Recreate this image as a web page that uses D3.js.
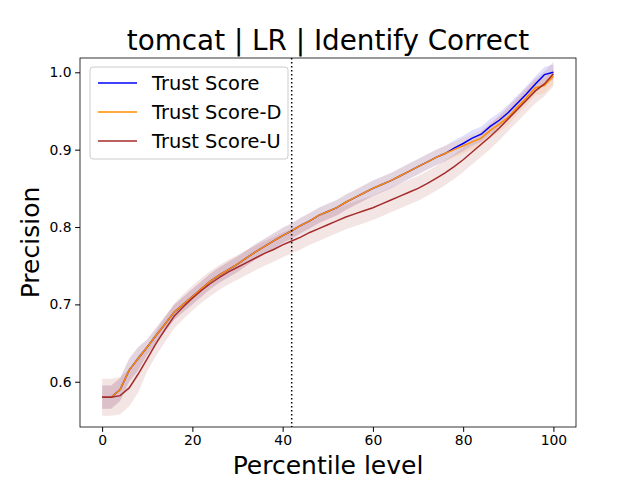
<!DOCTYPE html>
<html><head><meta charset="utf-8">
<script src="https://cdn.jsdelivr.net/npm/d3@7"></script>
<style>body{margin:0;background:#fff}text{font-family:"DejaVu Sans",sans-serif}</style>
</head><body><svg id="c" width="640" height="480"></svg>
<script>
const percentiles = d3.range(0, 101, 2);
const trustScore = [0.58,0.58,0.59,0.615,0.63,0.645,0.66,0.675,0.69,0.70,0.71,0.72,0.73,0.738,0.745,0.752,0.76,0.768,0.775,0.782,0.789,0.795,0.802,0.808,0.815,0.82,0.825,0.832,0.838,0.844,0.85,0.855,0.86,0.866,0.872,0.878,0.884,0.89,0.895,0.902,0.908,0.915,0.92,0.93,0.938,0.948,0.96,0.972,0.985,0.997,1.0];
const trustScoreD = [0.58,0.58,0.59,0.615,0.63,0.645,0.66,0.675,0.69,0.70,0.71,0.72,0.73,0.738,0.745,0.752,0.76,0.768,0.775,0.782,0.789,0.795,0.802,0.808,0.815,0.82,0.825,0.832,0.838,0.844,0.85,0.855,0.86,0.866,0.872,0.878,0.884,0.89,0.895,0.9,0.905,0.91,0.915,0.925,0.933,0.942,0.955,0.967,0.98,0.983,0.995];
const trustScoreU = [0.58,0.58,0.582,0.592,0.61,0.63,0.65,0.668,0.685,0.697,0.708,0.718,0.727,0.735,0.742,0.748,0.754,0.76,0.766,0.771,0.777,0.782,0.787,0.793,0.798,0.803,0.808,0.813,0.817,0.821,0.825,0.83,0.835,0.84,0.845,0.85,0.856,0.863,0.87,0.878,0.887,0.897,0.907,0.917,0.928,0.94,0.952,0.964,0.976,0.985,0.998];
const spreadTS = 0.01, spreadD = 0.01, spreadU = 0.016;
const xTicks = [0, 20, 40, 60, 80, 100];
const yTicks = [0.6, 0.7, 0.8, 0.9, 1.0];

const series = [
  {name: 'Trust Score', values: trustScore, spread: spreadTS, color: '#0000ff'},
  {name: 'Trust Score-D', values: trustScoreD, spread: spreadD, color: '#ff8c00'},
  {name: 'Trust Score-U', values: trustScoreU, spread: spreadU, color: '#a52a2a'}
];

const svg = d3.select('#c');
const L = 80, R = 576, T = 58, B = 427;
const x = d3.scaleLinear().domain([-4.9, 105]).range([L, R]);
const y = d3.scaleLinear().domain([0.5415, 1.0185]).range([B, T]);

series.forEach(s => {
  svg.append('path')
    .datum(percentiles.map((p, i) => [p, s.values[i]]))
    .attr('fill', s.color).attr('fill-opacity', 0.12)
    .attr('d', d3.area().x(d => x(d[0])).y0(d => y(d[1] - s.spread * (d[0] < 10 ? 1.5 : 1))).y1(d => y(d[1] + s.spread * (d[0] < 10 ? 1.5 : 1))));
});
series.forEach(s => {
  svg.append('path')
    .datum(percentiles.map((p, i) => [p, s.values[i]]))
    .attr('fill', 'none').attr('stroke', s.color).attr('stroke-width', 1.5)
    .attr('d', d3.line().x(d => x(d[0])).y(d => y(d[1])));
});

svg.append('line').attr('x1', x(42)).attr('x2', x(42)).attr('y1', T).attr('y2', B)
  .attr('stroke', '#000').attr('stroke-width', 1.5).attr('stroke-dasharray', '1.5,2.5');

svg.append('g').attr('transform', `translate(0,${B})`)
  .call(d3.axisBottom(x).tickValues(xTicks).tickSize(4.9).tickPadding(3.5).tickSizeOuter(0))
  .call(g => g.selectAll('text').attr('font-size', 13.9).attr('fill', '#000'));
svg.append('g').attr('transform', `translate(${L},0)`)
  .call(d3.axisLeft(y).tickValues(yTicks).tickFormat(d3.format('.1f')).tickSize(4.9).tickPadding(3.5).tickSizeOuter(0))
  .call(g => g.selectAll('text').attr('font-size', 13.9).attr('fill', '#000'));
svg.selectAll('.domain').remove();
svg.append('rect').attr('x', L).attr('y', T).attr('width', R - L).attr('height', B - T)
  .attr('fill', 'none').attr('stroke', '#000').attr('stroke-width', 0.8);

svg.append('text').attr('x', (L + R) / 2).attr('y', 50).attr('text-anchor', 'middle')
  .attr('font-size', 27.8).text('tomcat | LR | Identify Correct');
svg.append('text').attr('x', (L + R) / 2).attr('y', 474).attr('text-anchor', 'middle')
  .attr('font-size', 25).text('Percentile level');
svg.append('text').attr('transform', `translate(39,${(T + B) / 2}) rotate(-90)`).attr('text-anchor', 'middle')
  .attr('font-size', 25).text('Precision');

const lg = svg.append('g').attr('transform', 'translate(90,67)');
lg.append('rect').attr('width', 198).attr('height', 92).attr('rx', 3)
  .attr('fill', '#fff').attr('fill-opacity', 0.8).attr('stroke', '#ccc');
series.forEach((s, i) => {
  const yy = 16 + i * 29;
  lg.append('line').attr('x1', 8).attr('x2', 47).attr('y1', yy).attr('y2', yy)
    .attr('stroke', s.color).attr('stroke-width', 1.5);
  lg.append('text').attr('x', 62).attr('y', yy + 7).attr('font-size', 19.4).text(s.name);
});
</script></body></html>
